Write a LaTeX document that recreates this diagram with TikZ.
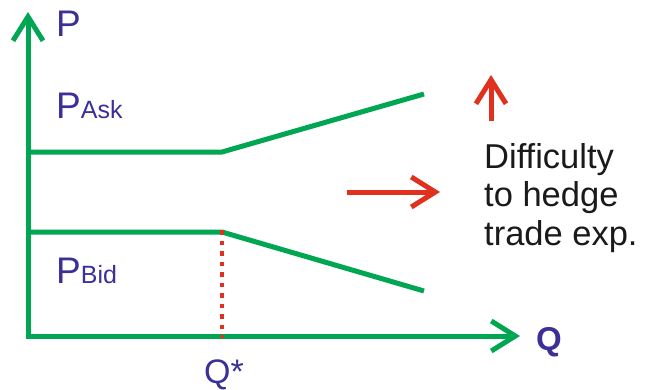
\documentclass[tikz,border=0pt]{standalone}
\usepackage{fontspec}
\setmainfont{Liberation Sans}
\usetikzlibrary{arrows.meta}
\definecolor{lgreen}{HTML}{00A651}
\definecolor{lred}{HTML}{E0301E}
\definecolor{lpurple}{HTML}{3B2F98}
\definecolor{ltext}{HTML}{1A1A1A}
\tikzset{
  axis/.style={draw=lgreen,line width=5pt,-{Straight Barb[length=24pt,width=30pt,line width=5pt]}},
  curve/.style={draw=lgreen,line width=5pt,line join=miter},
  redarrow/.style={draw=lred,line width=5pt,-{Straight Barb[length=24pt,width=30pt,line width=5pt]}},
  dotline/.style={draw=lred,line width=4.5pt,dash pattern=on 4.5pt off 6pt},
  lbl/.style={text=lpurple,inner sep=0pt,anchor=base west},
}
\begin{document}
\begin{tikzpicture}[x=1pt,y=-1pt]
\useasboundingbox (0,0) rectangle (649,389);
\coordinate (O) at (28,336);
\coordinate (Ptip) at (28,12);
\coordinate (Qtip) at (520,336);
\coordinate (Ak) at (222,152);
\coordinate (Ae) at (424,94);
\coordinate (Bk) at (222,232);
\coordinate (Be) at (424,291);
\coordinate (As) at (28,152);
\coordinate (Bs) at (28,232);
\coordinate (Qs) at (222,336);
\coordinate (U0) at (491,121);
\coordinate (U1) at (491,75);
\coordinate (R0) at (347,192);
\coordinate (R1) at (440,192);
\draw[axis] (O) -- (Ptip);
\draw[axis] ([xshift=-2.5pt]O) -- (Qtip);
\draw[curve] (As) -- (Ak) -- (Ae);
\draw[curve] (Bs) -- (Bk) -- (Be);
\draw[dotline] ([yshift=2pt]Bk) -- ([yshift=-2pt]Qs);
\draw[redarrow] (U0) -- (U1);
\draw[redarrow] (R0) -- (R1);
\node[lbl,font=\fontsize{37}{40}\selectfont] (P) at (56,36) {P};
\node[lbl,font=\fontsize{37}{40}\selectfont] (PA) at (56,118) {P\fontsize{25}{28}\selectfont Ask};
\node[lbl,font=\fontsize{37}{40}\selectfont] (PB) at (56,283) {P\fontsize{25}{28}\selectfont Bid};
\node[lbl,font=\fontsize{33}{36}\selectfont\bfseries] (Q) at (536,350) {Q};
\node[lbl,font=\fontsize{34}{36}\selectfont] (QS) at (204,383) {Q*};
\node[inner sep=0pt,anchor=base west,text=ltext,align=left,font=\fontsize{34.5}{38.5}\selectfont] (D) at (484,245) {Difficulty\\to hedge\\trade exp.};
\end{tikzpicture}
\end{document}
